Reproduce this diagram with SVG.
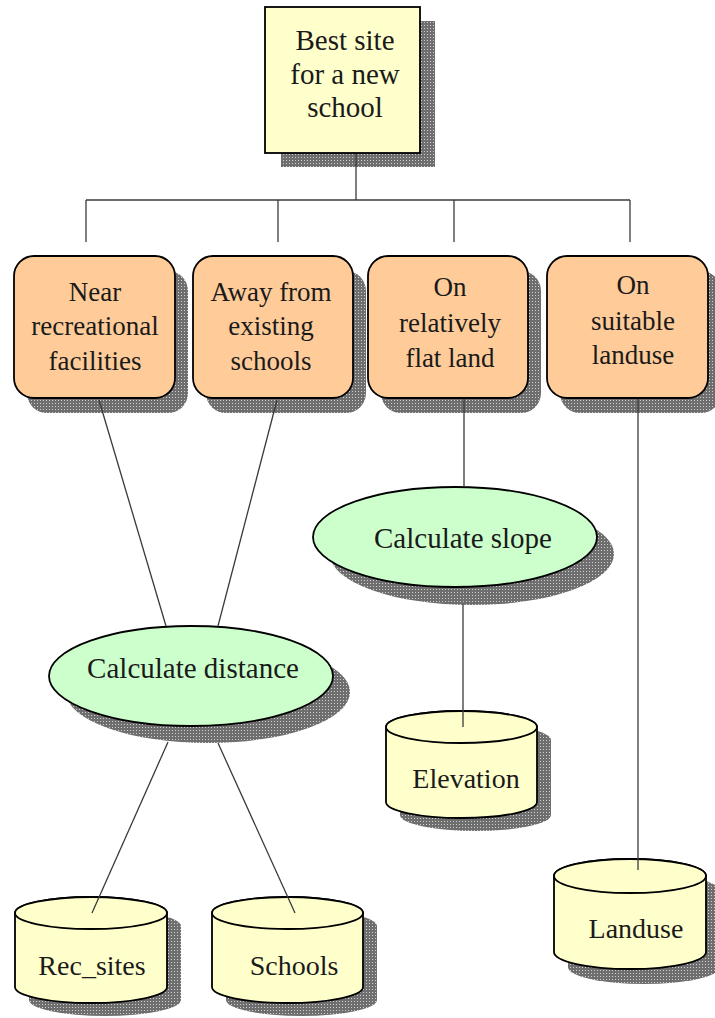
<svg xmlns="http://www.w3.org/2000/svg" width="715" height="1018" viewBox="0 0 715 1018">
<defs>
<pattern id="dots" width="3" height="3" patternUnits="userSpaceOnUse">
<rect width="3" height="3" fill="#6e6e6e"/>
<rect x="1" y="1" width="1" height="1" fill="#cfcfcf"/>
</pattern>
<style>
.shadow{fill:url(#dots);stroke:none}
.goal{fill:#FFFFCC;stroke:#000;stroke-width:1.8}
.crit{fill:#FFCC99;stroke:#000;stroke-width:1.8}
.proc{fill:#CCFFCC;stroke:#000;stroke-width:1.8}
.data{fill:#FFFFCC;stroke:#000;stroke-width:1.8}
text{font-family:"Liberation Serif","Times New Roman",serif;fill:#1a1a1a;text-anchor:middle}
.t29{font-size:29px}
.t28{font-size:28px}
.t27{font-size:27px}
.conn line{stroke:#3a3a3a;stroke-width:1.3}
</style>
</defs>
<rect width="715" height="1018" fill="#fff"/>

<g id="goal">
<rect class="shadow" x="281" y="21" width="154" height="146"/>
<rect class="goal" x="265" y="7" width="155" height="146"/>
<text class="t29" x="345" y="50">Best site</text>
<text class="t29" x="345" y="84">for a new</text>
<text class="t29" x="345" y="117">school</text>
</g>

<g id="near">
<rect class="shadow" x="27" y="271" width="161" height="142" rx="20"/>
<rect class="crit" x="14" y="256" width="161" height="142" rx="20"/>
<text class="t27" x="95" y="301">Near</text>
<text class="t27" x="95" y="335">recreational</text>
<text class="t27" x="95" y="370">facilities</text>
</g>

<g id="away">
<rect class="shadow" x="206" y="271" width="160" height="142" rx="20"/>
<rect class="crit" x="193" y="256" width="160" height="142" rx="20"/>
<text class="t27" x="271" y="301">Away from</text>
<text class="t27" x="271" y="335">existing</text>
<text class="t27" x="271" y="370">schools</text>
</g>

<g id="flat">
<rect class="shadow" x="381" y="271" width="160" height="142" rx="20"/>
<rect class="crit" x="368" y="256" width="160" height="142" rx="20"/>
<text class="t27" x="450" y="296">On</text>
<text class="t27" x="450" y="332">relatively</text>
<text class="t27" x="450" y="367">flat land</text>
</g>

<g id="landuse-crit">
<rect class="shadow" x="560" y="271" width="161" height="142" rx="20"/>
<rect class="crit" x="547" y="256" width="161" height="142" rx="20"/>
<text class="t27" x="633" y="294">On</text>
<text class="t27" x="633" y="330">suitable</text>
<text class="t27" x="633" y="364">landuse</text>
</g>

<g id="calc-slope">
<ellipse class="shadow" cx="472" cy="554" rx="142" ry="51"/>
<ellipse class="proc" cx="455" cy="537" rx="142" ry="50"/>
<text class="t29" x="463" y="548">Calculate slope</text>
</g>

<g id="calc-distance">
<ellipse class="shadow" cx="208" cy="692" rx="142" ry="51"/>
<ellipse class="proc" cx="191" cy="676" rx="142" ry="50"/>
<text class="t29" x="193" y="678">Calculate distance</text>
</g>

<g id="elevation">
<path class="shadow" transform="translate(14,13)" d="M386,727 L386,802 A75.5,16 0 0 0 537,802 L537,727 A75.5,16 0 0 0 386,727 Z"/>
<path class="data" d="M386,727 L386,802 A75.5,16 0 0 0 537,802 L537,727 A75.5,16 0 0 0 386,727 Z"/>
<ellipse class="data" cx="461.5" cy="727" rx="75.5" ry="16"/>
<text class="t28" x="466" y="788">Elevation</text>
</g>

<g id="landuse">
<path class="shadow" transform="translate(14,15)" d="M554,876 L554,952 A76,17 0 0 0 706,952 L706,876 A76,17 0 0 0 554,876 Z"/>
<path class="data" d="M554,876 L554,952 A76,17 0 0 0 706,952 L706,876 A76,17 0 0 0 554,876 Z"/>
<ellipse class="data" cx="630" cy="876" rx="76" ry="17"/>
<text class="t28" x="636" y="938">Landuse</text>
</g>

<g id="rec-sites">
<path class="shadow" transform="translate(14,13)" d="M15,913 L15,987 A76,16 0 0 0 167,987 L167,913 A76,16 0 0 0 15,913 Z"/>
<path class="data" d="M15,913 L15,987 A76,16 0 0 0 167,987 L167,913 A76,16 0 0 0 15,913 Z"/>
<ellipse class="data" cx="91" cy="913" rx="76" ry="16"/>
<text class="t28" x="92" y="975">Rec_sites</text>
</g>

<g id="schools">
<path class="shadow" transform="translate(14,13)" d="M212,913 L212,987 A75.5,16 0 0 0 363,987 L363,913 A75.5,16 0 0 0 212,913 Z"/>
<path class="data" d="M212,913 L212,987 A75.5,16 0 0 0 363,987 L363,913 A75.5,16 0 0 0 212,913 Z"/>
<ellipse class="data" cx="287.5" cy="913" rx="75.5" ry="16"/>
<text class="t28" x="294" y="975">Schools</text>
</g>

<g id="connectors" class="conn">
<line x1="356" y1="154" x2="356" y2="200"/>
<line x1="86" y1="200" x2="630" y2="200"/>
<line x1="86" y1="200" x2="86" y2="242"/>
<line x1="278" y1="200" x2="278" y2="242"/>
<line x1="454" y1="200" x2="454" y2="242"/>
<line x1="630" y1="200" x2="630" y2="242"/>
<line x1="99" y1="400" x2="166" y2="626"/>
<line x1="277" y1="400" x2="218" y2="626"/>
<line x1="464" y1="399" x2="464" y2="487"/>
<line x1="463" y1="604" x2="463" y2="727"/>
<line x1="638" y1="399" x2="638" y2="870"/>
<line x1="168" y1="742" x2="92" y2="913"/>
<line x1="218" y1="743" x2="295" y2="913"/>
</g>
</svg>
